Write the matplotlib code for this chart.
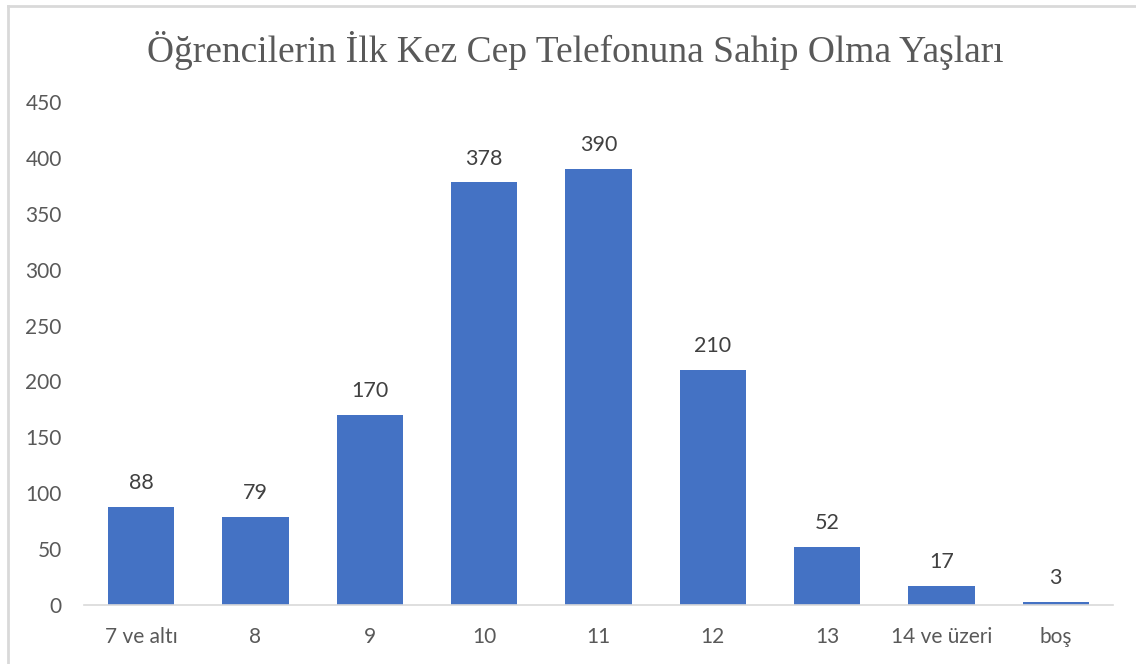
import matplotlib
matplotlib.use("Agg")
import matplotlib.pyplot as plt
from matplotlib.lines import Line2D

categories = ["7 ve altı", "8", "9", "10", "11", "12", "13", "14 ve üzeri", "boş"]
values = [88, 79, 170, 378, 390, 210, 52, 17, 3]
yticks = [0, 50, 100, 150, 200, 250, 300, 350, 400, 450]
title = "Öğrencilerin İlk Kez Cep Telefonuna Sahip Olma Yaşları"

plt.rcParams['font.family'] = ['Lato', 'DejaVu Sans']

fig = plt.figure(figsize=(11.36, 6.64), dpi=100)
ax = fig.add_axes([84/1136, 1-605/664, (1113-84)/1136, (605-102)/664])

x = list(range(len(categories)))
bars = ax.bar(x, values, width=0.58, color="#4472C4", zorder=2)
ax.set_xlim(-0.5, len(categories)-0.5)
ax.set_ylim(0, 450)
ax.set_yticks(yticks)
ax.set_yticklabels([str(t) for t in yticks])
ax.set_xticks(x)
ax.set_xticklabels(categories)
for s in ["top", "right", "left"]:
    ax.spines[s].set_visible(False)
ax.spines["bottom"].set_color("#D9D9D9")
ax.spines["bottom"].set_linewidth(1.2)
ax.tick_params(axis="both", length=0, labelsize=15, colors="#595959")
ax.tick_params(axis="y", pad=16)
ax.tick_params(axis="x", pad=16)

for xi, v in zip(x, values):
    ax.annotate(str(v), (xi, v), xytext=(0, 10), textcoords="offset points",
                ha="center", va="bottom", fontsize=15.5, color="#404040")

fig.text(575/1136, 1-50/664, title, ha="center", va="center",
         fontsize=27, color="#595959", family=["Liberation Serif", "DejaVu Serif"])

fig.add_artist(Line2D([7.5/1136, 1], [1-5.5/664, 1-5.5/664], color="#D9D9D9", lw=2, transform=fig.transFigure))
fig.add_artist(Line2D([7.5/1136, 7.5/1136], [0, 1-5.5/664], color="#D9D9D9", lw=2, transform=fig.transFigure))

fig.savefig("out.png", dpi=100, facecolor="white")
